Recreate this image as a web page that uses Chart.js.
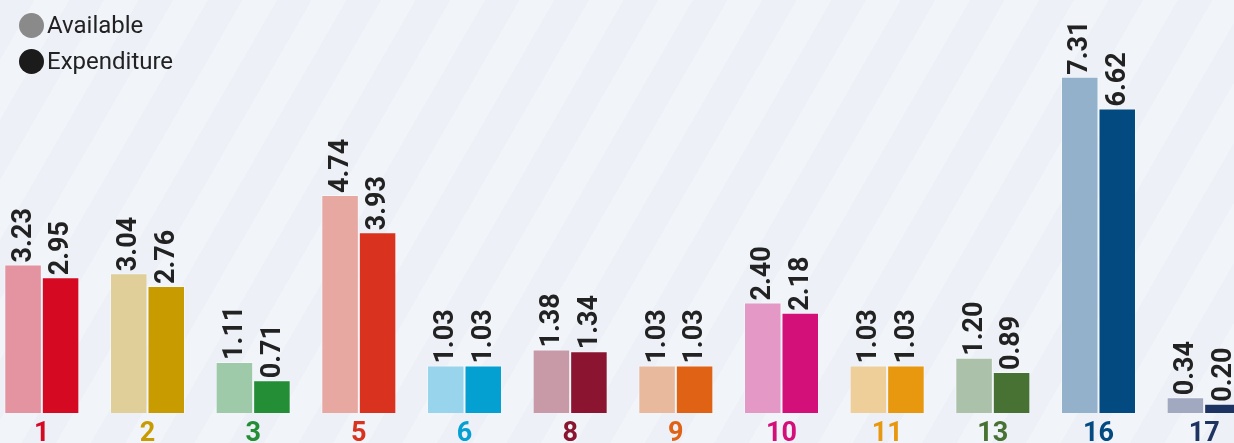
<!DOCTYPE html>
<html>
<head>
<meta charset="utf-8">
<script src="https://cdn.jsdelivr.net/npm/chart.js@4/dist/chart.umd.min.js"></script>
<style>
  html, body { margin: 0; padding: 0; }
  body {
    width: 1234px; height: 443px; overflow: hidden; position: relative;
    background: repeating-linear-gradient(120deg, #edf1f7 0px, #edf1f7 30px, #f1f4f9 30px, #f1f4f9 60px);
    font-family: Roboto, "Noto Sans", sans-serif;
  }
  #wrap { position: absolute; left: -11px; top: 0; width: 1268px; height: 443px; }
  #legenda { position: absolute; left: 19px; top: 7px; font-size: 24px; color: #222; }
  #legenda div { display: flex; align-items: center; height: 36px; }
  #legenda span.pt { width: 25px; height: 25px; border-radius: 50%; display: inline-block; margin-right: 3px; }
</style>
</head>
<body>
<div id="wrap"><canvas id="grafico"></canvas></div>
<div id="legenda">
  <div><span class="pt" style="background:#8a8a8a"></span>Available</div>
  <div><span class="pt" style="background:#1b1b1b"></span>Expenditure</div>
</div>
<script>
const categorias = ["1", "2", "3", "5", "6", "8", "9", "10", "11", "13", "16", "17"];
const disponivel = [3.23, 3.04, 1.11, 4.74, 1.03, 1.38, 1.03, 2.40, 1.03, 1.20, 7.31, 0.34];
const gasto = [2.95, 2.76, 0.71, 3.93, 1.03, 1.34, 1.03, 2.18, 1.03, 0.89, 6.62, 0.20];
const coresClaras = ["#e493a0", "#e0cf98", "#9ecaa9", "#e7a8a2", "#98d4ec", "#c89aa7", "#e9b99d", "#e498c6", "#eecf9a", "#abc1a9", "#93b1cb", "#a0a9c0"];
const coresEscuras = ["#d50a22", "#c89b00", "#238e36", "#d9321f", "#04a0d2", "#8b1530", "#e06215", "#d3107a", "#e8980f", "#477234", "#034a81", "#1d3462"];

const rotulos = {
    id: "rotulos",
    afterDatasetsDraw(chart) {
        const ctx = chart.ctx;
        ctx.save();
        ctx.font = "bold 27px Roboto, 'Noto Sans', sans-serif";
        ctx.fillStyle = "#222222";
        ctx.textAlign = "left";
        ctx.textBaseline = "middle";
        chart.data.datasets.forEach(function (ds, i) {
            chart.getDatasetMeta(i).data.forEach(function (barra, j) {
                ctx.save();
                ctx.translate(barra.x, barra.y - 2);
                ctx.rotate(-Math.PI / 2);
                ctx.fillText(ds.data[j].toFixed(2), 0, 1);
                ctx.restore();
            });
        });
        ctx.restore();
    }
};

const ctx = document.getElementById("grafico").getContext("2d");
const grafico = new Chart(ctx, {
    type: "bar",
    data: {
        labels: categorias,
        datasets: [
            {
                label: "Available",
                data: disponivel,
                backgroundColor: coresClaras,
                borderColor: "rgba(255,255,255,0.35)",
                borderWidth: 1
            },
            {
                label: "Expenditure",
                data: gasto,
                backgroundColor: coresEscuras,
                borderColor: "rgba(255,255,255,0.35)",
                borderWidth: 1
            }
        ]
    },
    options: {
        responsive: true,
        maintainAspectRatio: false,
        animation: false,
        layout: { padding: { top: 45, bottom: 0, left: 0, right: 0 } },
        datasets: { bar: { categoryPercentage: 0.71, barPercentage: 1 } },
        plugins: {
            legend: { display: false },
            tooltip: { enabled: false }
        },
        scales: {
            x: {
                grid: { display: false, drawTicks: false },
                border: { display: false },
                afterFit: function (eixo) { eixo.height = 30; },
                ticks: {
                    padding: 5,
                    color: coresEscuras,
                    font: { family: "Roboto", size: 27, weight: "bold" }
                }
            },
            y: {
                display: false,
                min: 0,
                max: 8
            }
        }
    },
    plugins: [rotulos]
});
</script>
</body>
</html>
